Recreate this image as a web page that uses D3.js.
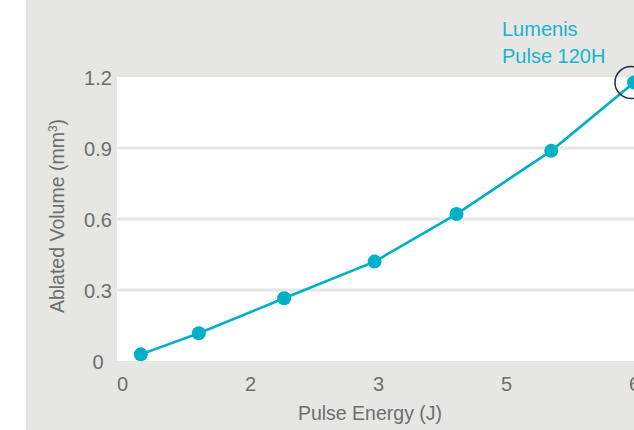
<!DOCTYPE html>
<html>
<head>
<meta charset="utf-8">
<script src="https://cdn.jsdelivr.net/npm/d3@7"></script>
<style>
  html, body { margin: 0; padding: 0; background: #ffffff; }
  svg { display: block; }
  text { font-family: "Liberation Sans", Arial, sans-serif; font-weight: 400; }
</style>
</head>
<body>
<svg id="chart" width="634" height="430"></svg>
<script>
// ---- data ----
const pulseEnergy = [0.22, 0.90, 1.90, 2.96, 3.92, 5.03, 6.00];
const ablatedVolume = [0.028, 0.117, 0.265, 0.42, 0.621, 0.888, 1.177];
const xTickValues = [0, 1.5, 3, 4.5, 6];
const xTickLabels = ["0", "2", "3", "5", "6"];
const yTickValues = [0, 0.3, 0.6, 0.9, 1.2];
const yTickLabels = ["0", "0.3", "0.6", "0.9", "1.2"];
const annotationLines = ["Lumenis", "Pulse 120H"];
const xTitle = "Pulse Energy (J)";

const W = 634, H = 430;
const svg = d3.select("#chart");
const cyan = "#00afc8";
const grey = "#e6e6e4";
const txt = "#6e6e6e";
const FONT = "'Liberation Sans', Arial, sans-serif";

const x = d3.scaleLinear().domain([0, 6]).range([122, 634]);
const y = d3.scaleLinear().domain([0, 1.2]).range([361, 77]);

// background
svg.append("rect").attr("x", 0).attr("y", 0).attr("width", W).attr("height", H).attr("fill", "#ffffff");
svg.append("rect").attr("x", 26).attr("y", 0).attr("width", W - 26).attr("height", H).attr("fill", grey);

// plot area
svg.append("rect")
  .attr("x", x(0) - 5).attr("y", y(1.2))
  .attr("width", W - (x(0) - 5)).attr("height", y(0) - y(1.2))
  .attr("fill", "#ffffff");

// gridlines
svg.append("g").selectAll("line")
  .data(yTickValues.filter(v => v > 0 && v < 1.2))
  .join("line")
  .attr("x1", x(0) - 5).attr("x2", W)
  .attr("y1", d => y(d)).attr("y2", d => y(d))
  .attr("stroke", grey).attr("stroke-width", 3);

// y axis labels
const yAxis = d3.axisLeft(y).tickValues(yTickValues)
  .tickFormat((d, i) => yTickLabels[i]).tickSize(0).tickPadding(0);
const gy = svg.append("g").attr("transform", "translate(98,0)").call(yAxis);
gy.select(".domain").remove();
gy.selectAll("text")
  .attr("text-anchor", "middle").attr("x", 0).attr("dy", "0.36em")
  .attr("font-size", 20).attr("fill", txt)
  .style("font-family", FONT).style("font-weight", 400);

// x axis labels
const xAxis = d3.axisBottom(x).tickValues(xTickValues)
  .tickFormat((d, i) => xTickLabels[i]).tickSize(0).tickPadding(0);
const gx = svg.append("g").attr("transform", "translate(0,377)").call(xAxis);
gx.select(".domain").remove();
gx.selectAll("text")
  .attr("y", 0).attr("dy", "0.71em")
  .attr("font-size", 20).attr("fill", txt)
  .style("font-family", FONT).style("font-weight", 400);

// axis titles
svg.append("text")
  .attr("x", 370).attr("y", 420)
  .attr("text-anchor", "middle").attr("font-size", 19.5).attr("fill", txt)
  .text(xTitle);

const yt = svg.append("text")
  .attr("transform", "translate(64,216) rotate(-90)")
  .attr("text-anchor", "middle").attr("font-size", 19.5).attr("fill", txt);
yt.append("tspan").text("Ablated Volume (mm");
yt.append("tspan").attr("font-size", 12).attr("dy", -7).text("3");
yt.append("tspan").attr("dy", 7).text(")");

// line
const pts = pulseEnergy.map((d, i) => [d, ablatedVolume[i]]);
svg.append("path")
  .datum(pts)
  .attr("fill", "none").attr("stroke", cyan).attr("stroke-width", 2.6)
  .attr("d", d3.line().x(d => x(d[0])).y(d => y(d[1])));

svg.append("g").selectAll("circle")
  .data(pts).join("circle")
  .attr("cx", d => x(d[0])).attr("cy", d => y(d[1]))
  .attr("r", 7).attr("fill", cyan);

// highlight circle on last point
const last = pts[pts.length - 1];
svg.append("circle")
  .attr("cx", x(last[0]) - 3).attr("cy", y(last[1]))
  .attr("r", 16).attr("fill", "none")
  .attr("stroke", "#1b2d4d").attr("stroke-width", 1.5);

// annotation
const ann = svg.append("text")
  .attr("x", 502).attr("y", 36)
  .attr("font-size", 20).attr("fill", "#1ab3cc");
annotationLines.forEach((t, i) => {
  ann.append("tspan").attr("x", 502).attr("dy", i === 0 ? 0 : 27).text(t);
});
</script>
</body>
</html>
